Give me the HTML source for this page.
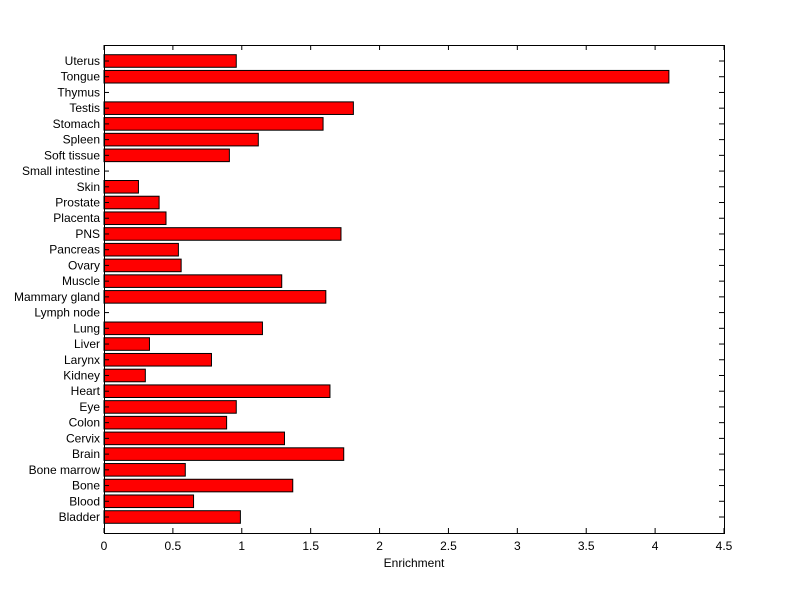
<!DOCTYPE html>
<html><head><meta charset="utf-8"><style>
body{margin:0;background:#fff;}
svg{display:block;font-family:"Liberation Sans",Arial,sans-serif;}
</style></head><body>
<svg id="chart" width="800" height="599" viewBox="0 0 800 599"></svg>
<script>
const categories=["Bladder","Blood","Bone","Bone marrow","Brain","Cervix","Colon","Eye","Heart","Kidney","Larynx","Liver","Lung","Lymph node","Mammary gland","Muscle","Ovary","Pancreas","PNS","Placenta","Prostate","Skin","Small intestine","Soft tissue","Spleen","Stomach","Testis","Thymus","Tongue","Uterus"];
const values=[0.99,0.65,1.37,0.59,1.74,1.31,0.89,0.96,1.64,0.30,0.78,0.33,1.15,0,1.61,1.29,0.56,0.54,1.72,0.45,0.40,0.25,0,0.91,1.12,1.59,1.81,0,4.10,0.96];
const xTicks=[0,0.5,1,1.5,2,2.5,3,3.5,4,4.5];
const xTickLabels=["0","0.5","1","1.5","2","2.5","3","3.5","4","4.5"];

const L=104,R=724,T=45,B=533;
const NS="http://www.w3.org/2000/svg";
const svg=document.getElementById('chart');
const xMax=4.5;
function xs(v){return L+(v/xMax)*(R-L);}
const n=categories.length;
function ys(i){return B-16-i*((B-T-32)/(n-1));}
const step=(B-T-32)/(n-1);
function mk(tag,attrs){const e=document.createElementNS(NS,tag);for(const k in attrs)e.setAttribute(k,attrs[k]);svg.appendChild(e);return e;}

const bg=mk('rect',{x:L,y:T,width:R-L,height:B-T,fill:'#fff',stroke:'none'});



for(let i=0;i<n;i++){
  const y=ys(i);
  if(values[i]>0){
    const b=mk('rect',{x:xs(0),y:y-step*0.4,width:xs(values[i])-xs(0),height:step*0.8,fill:'#ff0000',stroke:'#000','stroke-width':1});
    
    
  }
  mk('line',{x1:L,x2:L+5,y1:y,y2:y,stroke:'#000'});
  mk('line',{x1:R,x2:R-5,y1:y,y2:y,stroke:'#000'});
  const t=mk('text',{x:L-4,y:y+4,'text-anchor':'end','font-size':12,fill:'#000'});
  t.textContent=categories[i];
  
  
}
for(let j=0;j<xTicks.length;j++){
  const x=xs(xTicks[j]);
  mk('line',{x1:x,x2:x,y1:B,y2:B-5,stroke:'#000'});
  mk('line',{x1:x,x2:x,y1:T,y2:T+5,stroke:'#000'});
  const t=mk('text',{x:x,y:B+17,'text-anchor':'middle','font-size':12,fill:'#000'});
  t.textContent=xTickLabels[j];
  
  
}
const frame=mk('rect',{x:L+0.5,y:T+0.5,width:R-L,height:B-T,fill:'none',stroke:'#000','stroke-width':1});


const xt=mk('text',{x:(L+R)/2,y:567,'text-anchor':'middle','font-size':12,fill:'#000'});
xt.textContent='Enrichment';


</script>
</body></html>
